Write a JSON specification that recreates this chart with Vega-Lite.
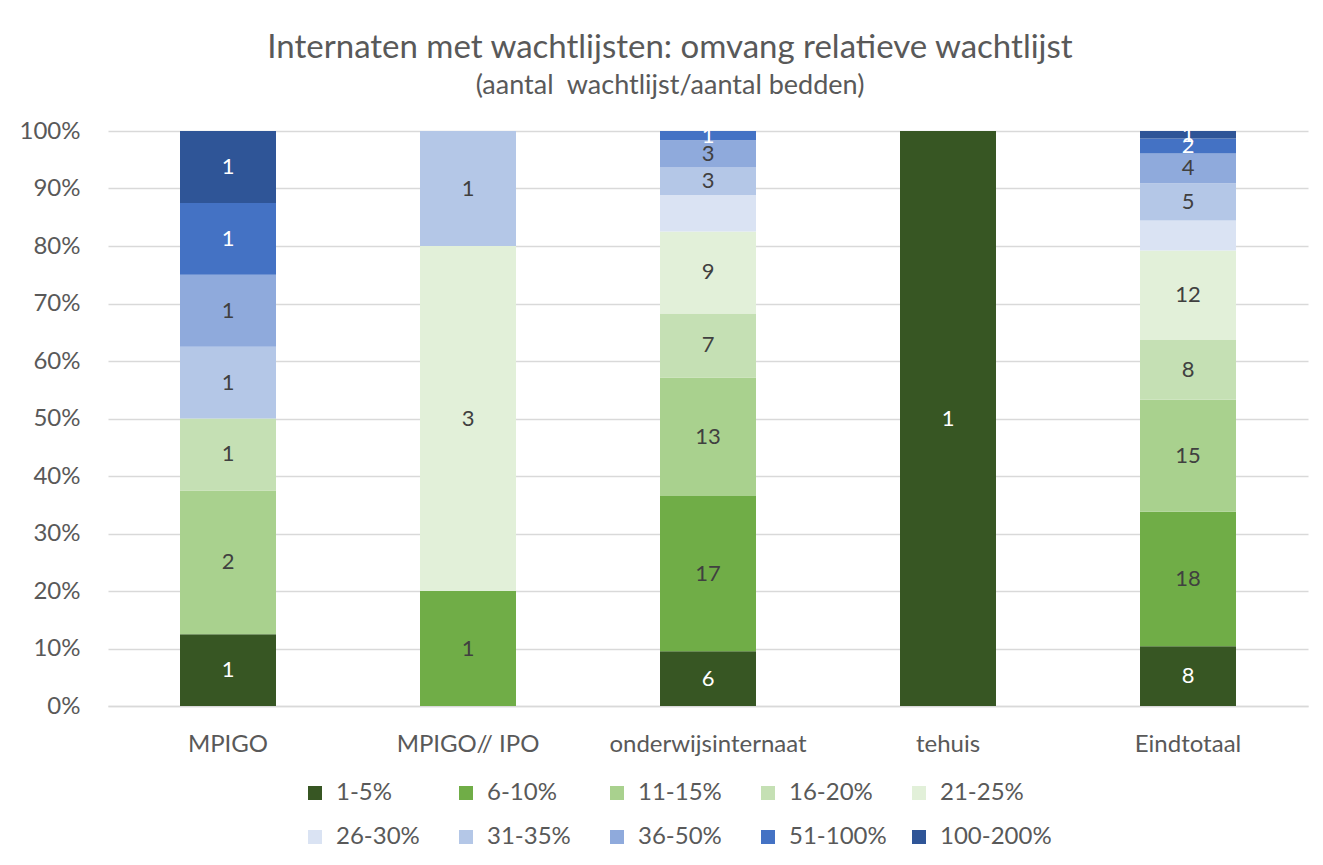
{
  "$schema": "https://vega.github.io/schema/vega-lite/v6.json",
  "autosize": "none",
  "width": 1200,
  "height": 575,
  "padding": {"left": 108, "top": 131, "right": 15, "bottom": 159},
  "background": "white",
  "title": {
    "text": "Internaten met wachtlijsten: omvang relatieve wachtlijst",
    "subtitle": "(aantal \u00a0wachtlijst/aantal bedden)",
    "anchor": "middle",
    "dx": -38,
    "offset": 20,
    "font": "Lato",
    "fontSize": 33,
    "fontWeight": "normal",
    "color": "#595959",
    "subtitleFont": "Lato",
    "subtitleFontSize": 27,
    "subtitleColor": "#595959",
    "subtitlePadding": 8
  },
  "data": {
    "values": [
      {"cat": "MPIGO", "series": "1-5%", "ord": 1, "n": 1},
      {"cat": "MPIGO", "series": "11-15%", "ord": 3, "n": 2},
      {"cat": "MPIGO", "series": "16-20%", "ord": 4, "n": 1},
      {"cat": "MPIGO", "series": "31-35%", "ord": 7, "n": 1},
      {"cat": "MPIGO", "series": "36-50%", "ord": 8, "n": 1},
      {"cat": "MPIGO", "series": "51-100%", "ord": 9, "n": 1},
      {"cat": "MPIGO", "series": "100-200%", "ord": 10, "n": 1},
      {"cat": "MPIGO// IPO", "series": "6-10%", "ord": 2, "n": 1},
      {"cat": "MPIGO// IPO", "series": "21-25%", "ord": 5, "n": 3},
      {"cat": "MPIGO// IPO", "series": "31-35%", "ord": 7, "n": 1},
      {"cat": "onderwijsinternaat", "series": "1-5%", "ord": 1, "n": 6},
      {"cat": "onderwijsinternaat", "series": "6-10%", "ord": 2, "n": 17},
      {"cat": "onderwijsinternaat", "series": "11-15%", "ord": 3, "n": 13},
      {"cat": "onderwijsinternaat", "series": "16-20%", "ord": 4, "n": 7},
      {"cat": "onderwijsinternaat", "series": "21-25%", "ord": 5, "n": 9},
      {"cat": "onderwijsinternaat", "series": "26-30%", "ord": 6, "n": 4},
      {"cat": "onderwijsinternaat", "series": "31-35%", "ord": 7, "n": 3},
      {"cat": "onderwijsinternaat", "series": "36-50%", "ord": 8, "n": 3},
      {"cat": "onderwijsinternaat", "series": "51-100%", "ord": 9, "n": 1},
      {"cat": "tehuis", "series": "1-5%", "ord": 1, "n": 1},
      {"cat": "Eindtotaal", "series": "1-5%", "ord": 1, "n": 8},
      {"cat": "Eindtotaal", "series": "6-10%", "ord": 2, "n": 18},
      {"cat": "Eindtotaal", "series": "11-15%", "ord": 3, "n": 15},
      {"cat": "Eindtotaal", "series": "16-20%", "ord": 4, "n": 8},
      {"cat": "Eindtotaal", "series": "21-25%", "ord": 5, "n": 12},
      {"cat": "Eindtotaal", "series": "26-30%", "ord": 6, "n": 4},
      {"cat": "Eindtotaal", "series": "31-35%", "ord": 7, "n": 5},
      {"cat": "Eindtotaal", "series": "36-50%", "ord": 8, "n": 4},
      {"cat": "Eindtotaal", "series": "51-100%", "ord": 9, "n": 2},
      {"cat": "Eindtotaal", "series": "100-200%", "ord": 10, "n": 1}
    ]
  },
  "transform": [
    {"stack": "n", "groupby": ["cat"], "sort": [{"field": "ord", "order": "ascending"}], "offset": "normalize", "as": ["y0", "y1"]},
    {"calculate": "(datum.y0 + datum.y1) / 2", "as": "ymid"}
  ],
  "encoding": {
    "x": {
      "field": "cat",
      "type": "nominal",
      "sort": ["MPIGO", "MPIGO// IPO", "onderwijsinternaat", "tehuis", "Eindtotaal"],
      "scale": {"paddingInner": 0.6, "paddingOuter": 0.3},
      "axis": {
        "title": null,
        "labelAngle": 0,
        "labelFont": "Lato",
        "labelFontSize": 24,
        "labelColor": "#595959",
        "labelPadding": 26,
        "labelLimit": 400,
        "ticks": false,
        "domainColor": "#d9d9d9",
        "domainWidth": 1.5
      }
    }
  },
  "layer": [
    {
      "mark": {"type": "bar"},
      "encoding": {
        "y": {
          "field": "y0",
          "type": "quantitative",
          "scale": {"domain": [0, 1]},
          "axis": {
            "title": null,
            "format": ".0%",
            "values": [0, 0.1, 0.2, 0.3, 0.4, 0.5, 0.6, 0.7, 0.8, 0.9, 1],
            "labelFont": "Lato",
            "labelFontSize": 24,
            "labelColor": "#595959",
            "labelPadding": 28,
            "ticks": false,
            "domain": false,
            "gridColor": "#d9d9d9",
            "gridWidth": 1.5
          }
        },
        "y2": {"field": "y1"},
        "color": {
          "field": "series",
          "type": "nominal",
          "scale": {
            "domain": ["1-5%", "6-10%", "11-15%", "16-20%", "21-25%", "26-30%", "31-35%", "36-50%", "51-100%", "100-200%"],
            "range": ["#375623", "#70ad47", "#a9d18e", "#c5e0b4", "#e2f0d9", "#dae3f3", "#b4c7e7", "#8faadc", "#4472c4", "#2f5597"]
          },
          "legend": {
            "title": null,
            "orient": "none",
            "legendX": 195,
            "legendY": 650,
            "direction": "horizontal",
            "columns": 5,
            "gridAlign": "all",
            "columnPadding": 6,
            "rowPadding": 20,
            "symbolType": "square",
            "symbolSize": 196,
            "symbolStrokeWidth": 0,
            "labelOffset": 9,
            "labelFont": "Lato",
            "labelFontSize": 24,
            "labelColor": "#595959"
          }
        },
        "order": {"field": "ord", "type": "quantitative"}
      }
    },
    {
      "transform": [{"filter": "datum.series != '26-30%'"}],
      "mark": {"type": "text", "font": "Lato", "fontSize": 22, "baseline": "middle", "align": "center"},
      "encoding": {
        "y": {"field": "ymid", "type": "quantitative"},
        "text": {"field": "n", "type": "quantitative"},
        "color": {
          "condition": {"test": "datum.series == '1-5%' || datum.series == '51-100%' || datum.series == '100-200%'", "value": "#ffffff"},
          "value": "#404040"
        }
      }
    }
  ],
  "config": {
    "view": {"stroke": null}
  }
}
